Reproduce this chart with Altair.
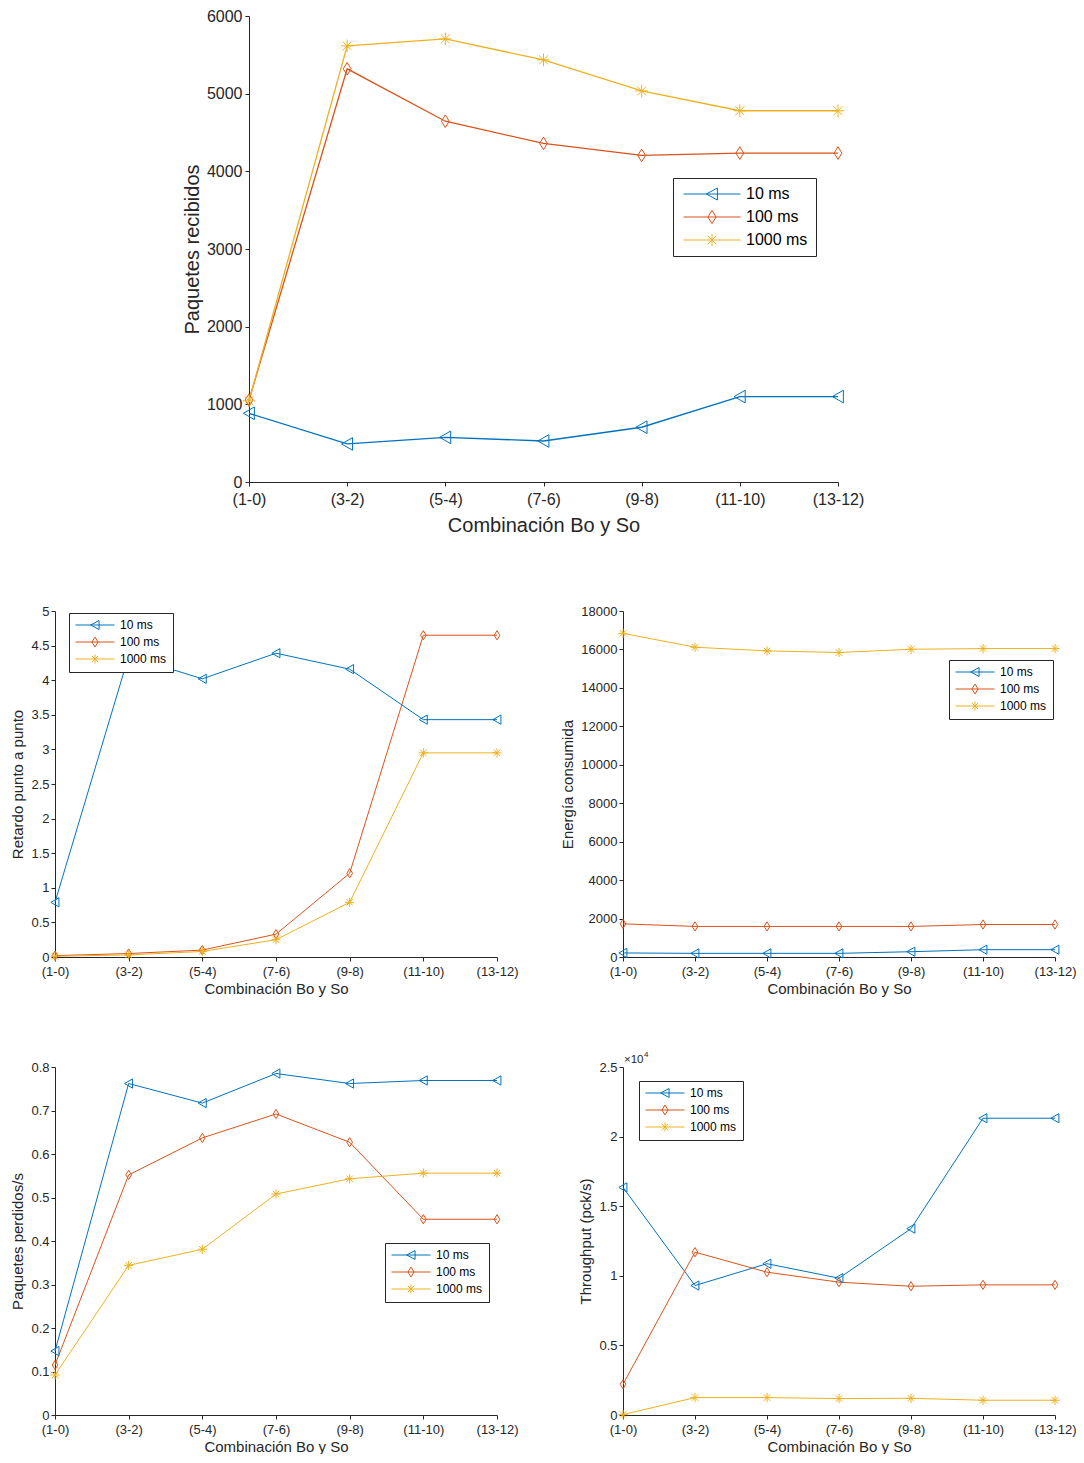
import altair as alt
import pandas as pd

# ---------------- data ----------------
categories = ["(1-0)", "(3-2)", "(5-4)", "(7-6)", "(9-8)", "(11-10)", "(13-12)"]
series_names = ["10 ms", "100 ms", "1000 ms"]
series_colors = ["#0072BD", "#D95319", "#EDB120"]

recibidos_10 = [885, 490, 575, 528, 705, 1100, 1100]
recibidos_100 = [1055, 5320, 4645, 4360, 4205, 4235, 4235]
recibidos_1000 = [1045, 5615, 5705, 5435, 5035, 4780, 4780]

retardo_10 = [0.79, 4.35, 4.02, 4.39, 4.16, 3.43, 3.43]
retardo_100 = [0.02, 0.05, 0.10, 0.33, 1.21, 4.65, 4.65]
retardo_1000 = [0.01, 0.03, 0.08, 0.25, 0.79, 2.95, 2.95]

energia_10 = [210, 190, 190, 190, 275, 380, 380]
energia_100 = [1725, 1590, 1590, 1590, 1590, 1690, 1690]
energia_1000 = [16840, 16115, 15925, 15840, 16010, 16045, 16045]

perdidos_10 = [0.147, 0.762, 0.717, 0.785, 0.762, 0.769, 0.769]
perdidos_100 = [0.115, 0.552, 0.637, 0.692, 0.627, 0.450, 0.450]
perdidos_1000 = [0.092, 0.344, 0.381, 0.508, 0.543, 0.556, 0.556]

throughput_10 = [16350, 9300, 10870, 9830, 13390, 21320, 21320]
throughput_100 = [2210, 11700, 10260, 9540, 9250, 9350, 9350]
throughput_1000 = [30, 1250, 1250, 1180, 1200, 1060, 1060]

ticks_recibidos = [0, 1000, 2000, 3000, 4000, 5000, 6000]
ticks_retardo = [0, 0.5, 1, 1.5, 2, 2.5, 3, 3.5, 4, 4.5, 5]
ticks_energia = [0, 2000, 4000, 6000, 8000, 10000, 12000, 14000, 16000, 18000]
ticks_perdidos = [0, 0.1, 0.2, 0.3, 0.4, 0.5, 0.6, 0.7, 0.8]
ticks_throughput = [0, 5000, 10000, 15000, 20000, 25000]

X_TITLE = "Combinación Bo y So"
FONT = "Liberation Sans"
AX = "#262626"

# ---------------- marker shapes ----------------
plot_shapes = [
    "M-0.9,0L0.85,-1L0.85,1Z",
    "M0,-1L0.62,0L0,1L-0.62,0Z",
    "M-1,0L1,0M0,-1L0,1M-0.7,-0.7L0.7,0.7M-0.7,0.7L0.7,-0.7",
]


def legend_shapes(L, m):
    d = 0.7 * m
    return [
        f"M{-L},0L{L},0M{-0.95*m:.3f},0L{0.9*m:.3f},{-m}L{0.9*m:.3f},{m}Z",
        f"M{-L},0L{L},0M0,{-1.1*m:.3f}L{0.68*m:.3f},0L0,{1.1*m:.3f}L{-0.68*m:.3f},0Z",
        f"M{-L},0L{L},0M0,{-m}L0,{m}M{-d:.3f},{-d:.3f}L{d:.3f},{d:.3f}M{-d:.3f},{d:.3f}L{d:.3f},{-d:.3f}",
    ]


def panel(vals, w, h, ymax, yticks, ytitle, big, lx, ly, fmt=None, label_expr=None, extra=None):
    df = pd.DataFrame({
        "cat": categories * 3,
        "idx": list(range(len(categories))) * 3,
        "serie": [s for s in series_names for _ in categories],
        "val": vals[0] + vals[1] + vals[2],
    })
    tick_fs = 16 if big else 13
    title_fs = 20 if big else 15
    leg_fs = 16 if big else 12
    msize = 160 if big else 85
    lw = 1.3 if big else 1.0

    yaxis_kw = dict(values=yticks, title=ytitle, labelFontSize=tick_fs, titleFontSize=title_fs,
                    tickSize=4, labelPadding=3 if big else 2, titlePadding=4 if big else 5,
                    grid=False, domainColor=AX, tickColor=AX)
    if label_expr:
        yaxis_kw["labelExpr"] = label_expr
    else:
        yaxis_kw["format"] = fmt

    x = alt.X("cat:N", sort=categories, scale=alt.Scale(type="point", padding=0),
              axis=alt.Axis(title=X_TITLE, labelAngle=0, labelFontSize=tick_fs, titleFontSize=title_fs,
                            tickSize=4, labelPadding=5 if big else 4, titlePadding=8 if big else 3,
                            domainColor=AX, tickColor=AX))
    y = alt.Y("val:Q", scale=alt.Scale(domain=[0, ymax], nice=False, zero=True), axis=alt.Axis(**yaxis_kw))
    cscale = alt.Scale(domain=series_names, range=series_colors)

    base = alt.Chart(df).encode(x=x, y=y, order=alt.Order("idx:Q"))
    lines = base.mark_line(strokeWidth=lw).encode(color=alt.Color("serie:N", scale=cscale, legend=None))
    pts = base.mark_point(filled=False, opacity=1, strokeWidth=1, size=msize).encode(
        color=alt.Color("serie:N", scale=cscale, legend=None),
        shape=alt.Shape("serie:N", scale=alt.Scale(domain=series_names, range=plot_shapes), legend=None),
    )
    if big:
        lshapes = legend_shapes(5.7, 1.2)
        leg_kw = dict(padding=8, rowPadding=6, symbolOffset=23, labelOffset=26)
    else:
        lshapes = legend_shapes(3.9, 0.9)
        leg_kw = dict(padding=6, rowPadding=3, symbolOffset=14, labelOffset=19)
    legend = alt.Legend(title=None, orient="none", legendX=lx, legendY=ly, strokeColor=AX,
                        fillColor="white", labelFontSize=leg_fs, labelFont=FONT, labelColor="#000000",
                        symbolSize=100, symbolStrokeWidth=1, **leg_kw)
    leg = alt.Chart(df).transform_filter("false").mark_point(filled=False, opacity=1).encode(
        color=alt.Color("serie:N", scale=cscale, legend=legend),
        shape=alt.Shape("serie:N", scale=alt.Scale(domain=series_names, range=lshapes), legend=legend),
    )
    layers = [lines, pts, leg]
    if extra is not None:
        layers += extra
    return alt.layer(*layers).resolve_scale(color="independent", shape="independent").properties(
        width=w, height=h)


# exponent label for throughput axis
exp_df = pd.DataFrame({"t": ["\u00d710"], "e": ["4"]})
exp_main = alt.Chart(exp_df).mark_text(align="left", baseline="middle", fontSize=11.5, font=FONT,
                                       color=AX).encode(text="t:N", x=alt.value(1), y=alt.value(-7))
exp_sup = alt.Chart(exp_df).mark_text(align="left", baseline="middle", fontSize=8, font=FONT,
                                      color=AX).encode(text="e:N", x=alt.value(21), y=alt.value(-12))

top = panel([recibidos_10, recibidos_100, recibidos_1000], 589, 466, 6000, ticks_recibidos,
            "Paquetes recibidos", True, 424, 162, fmt="d")
ml = panel([retardo_10, retardo_100, retardo_1000], 442, 346, 5, ticks_retardo,
           "Retardo punto a punto", False, 14, 2, fmt="~g")
mr = panel([energia_10, energia_100, energia_1000], 432, 346, 18000, ticks_energia,
           "Energía consumida", False, 326, 49, fmt="d")
bl = panel([perdidos_10, perdidos_100, perdidos_1000], 442, 348, 0.8, ticks_perdidos,
           "Paquetes perdidos/s", False, 330, 176, fmt="~g")
br = panel([throughput_10, throughput_100, throughput_1000], 432, 348, 25000, ticks_throughput,
           "Throughput (pck/s)", False, 16, 14,
           label_expr="format(datum.value / 10000, '~g')", extra=[exp_main, exp_sup])

spacer = alt.Chart(pd.DataFrame({"s": [""]})).mark_text().encode(
    text="s:N", x=alt.value(0), y=alt.value(0)).properties(width=127, height=10)

top_row = alt.hconcat(spacer, top, spacing=0)
grid = alt.concat(ml, mr, bl, br, columns=2, spacing={"row": 55, "column": 42})

chart = alt.vconcat(top_row, grid, spacing=70).properties(
    padding={"left": 2, "top": 0, "right": 0, "bottom": 0}
).configure_view(stroke=None).configure_axis(
    labelFont=FONT, titleFont=FONT, labelColor=AX, titleColor=AX, titleFontWeight="normal",
    domainColor=AX, tickColor=AX, grid=False
).configure_text(font=FONT)

chart.save("out.html", embed_options={"renderer": "svg", "actions": False})
